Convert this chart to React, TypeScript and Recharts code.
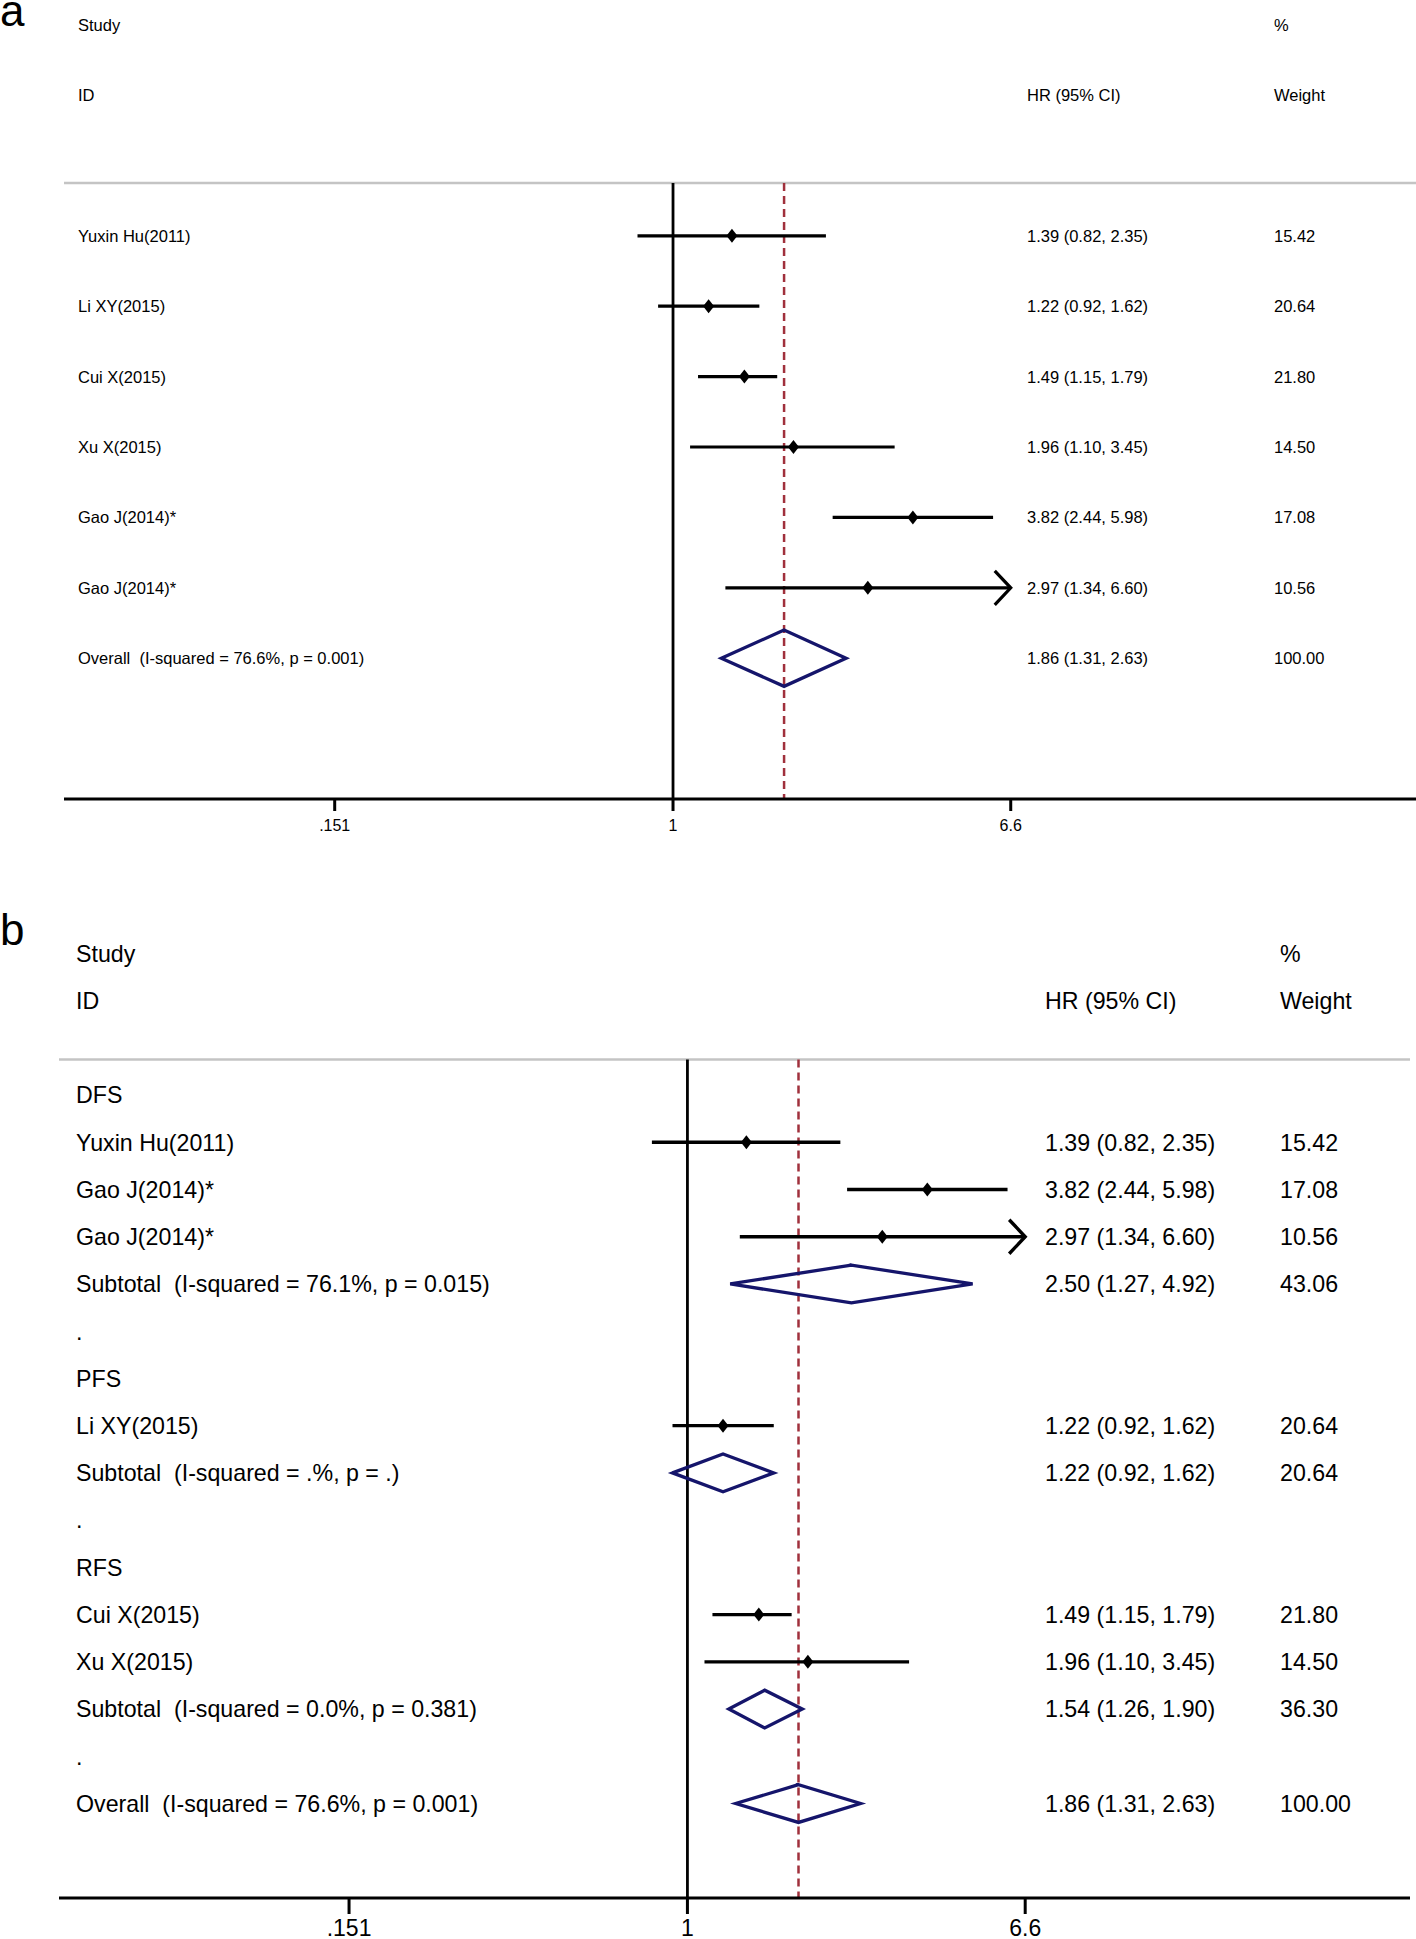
import React from 'react'
import { ComposedChart, XAxis, YAxis, Scatter, ReferenceLine } from 'recharts'

const FONT = '"Liberation Sans", Arial, Helvetica, sans-serif'

const xTicks = [0.151, 1, 6.6]
const xTickLabels = ['.151', '1', '6.6']
const headerTop = ['Study', '', '%']
const headerBottom = ['ID', 'HR (95% CI)', 'Weight']

// panel a: all studies
const aNames = ['Yuxin Hu(2011)', 'Li XY(2015)', 'Cui X(2015)', 'Xu X(2015)', 'Gao J(2014)*', 'Gao J(2014)*', 'Overall  (I-squared = 76.6%, p = 0.001)']
const aKinds = ['study', 'study', 'study', 'study', 'study', 'study', 'overall']
const aHR = [1.39, 1.22, 1.49, 1.96, 3.82, 2.97, 1.86]
const aLo = [0.82, 0.92, 1.15, 1.1, 2.44, 1.34, 1.31]
const aHi = [2.35, 1.62, 1.79, 3.45, 5.98, 6.6, 2.63]
const aWeight = [15.42, 20.64, 21.8, 14.5, 17.08, 10.56, 100.0]

// panel b: by outcome
const bNames = [
  'DFS', 'Yuxin Hu(2011)', 'Gao J(2014)*', 'Gao J(2014)*', 'Subtotal  (I-squared = 76.1%, p = 0.015)', '.',
  'PFS', 'Li XY(2015)', 'Subtotal  (I-squared = .%, p = .)', '.',
  'RFS', 'Cui X(2015)', 'Xu X(2015)', 'Subtotal  (I-squared = 0.0%, p = 0.381)', '.',
  'Overall  (I-squared = 76.6%, p = 0.001)',
]
const bKinds = ['label', 'study', 'study', 'study', 'pooled', 'label', 'label', 'study', 'pooled', 'label', 'label', 'study', 'study', 'pooled', 'label', 'overall']
const bHR = [null, 1.39, 3.82, 2.97, 2.5, null, null, 1.22, 1.22, null, null, 1.49, 1.96, 1.54, null, 1.86]
const bLo = [null, 0.82, 2.44, 1.34, 1.27, null, null, 0.92, 0.92, null, null, 1.15, 1.1, 1.26, null, 1.31]
const bHi = [null, 2.35, 5.98, 6.6, 4.92, null, null, 1.62, 1.62, null, null, 1.79, 3.45, 1.9, null, 2.63]
const bWeight = [null, 15.42, 17.08, 10.56, 43.06, null, null, 20.64, 20.64, null, null, 21.8, 14.5, 36.3, null, 100.0]

type Row = { y: number; kind: string; name: string; hr: number | null; lo: number | null; hi: number | null; w: number | null }

function buildRows(names: string[], kinds: string[], hr: any[], lo: any[], hi: any[], w: any[]): Row[] {
  return names.map((name, i) => ({ y: i + 3, kind: kinds[i], name, hr: hr[i], lo: lo[i], hi: hi[i], w: w[i] }))
}

const f2 = (v: number) => v.toFixed(2)

type PanelProps = {
  rows: Row[]
  width: number
  height: number
  left: number
  right: number
  axisHeight: number
  yDomain: [number, number]
  xDomain: [number, number]
  fontSize: number
  tickFont: number
  cols: number[]
  tickSize: number
  tickMargin: number
  lw: number
}

function Forest(p: PanelProps) {
  const { rows, lw } = p
  const axisRow = p.yDomain[1]
  const lineTop = 2.25
  const overall = rows.find((r) => r.kind === 'overall')!
  const xMax = xTicks[xTicks.length - 1]

  // text table rows, placed on the row scale (x=1 is only an anchor, columns are fixed)
  const textRows = [
    { x: 1, y: 0, cells: headerTop },
    { x: 1, y: 1, cells: headerBottom },
    ...rows.map((r) => ({
      x: 1,
      y: r.y,
      cells: [r.name, r.hr != null ? `${f2(r.hr)} (${f2(r.lo!)}, ${f2(r.hi!)})` : '', r.w != null ? f2(r.w) : ''],
    })),
  ]

  const textShape = (t: any) => {
    const cells: string[] = t.payload?.cells ?? []
    return (
      <g>
        {cells.map((s, k) =>
          s ? (
            <text key={k} x={p.cols[k]} y={t.cy} dy="0.36em" fontSize={p.fontSize} fontFamily={FONT} fill="#000" style={{ whiteSpace: 'pre' }}>
              {s}
            </text>
          ) : null,
        )}
      </g>
    )
  }

  const arrowShape = (s: any) => (
    <g>
      <line x1={s.x1} y1={s.y1} x2={s.x2} y2={s.y2} stroke="#000" strokeWidth={lw} />
      <polyline points={`${s.x2 - 16},${s.y2 - 17} ${s.x2},${s.y2} ${s.x2 - 16},${s.y2 + 17}`} fill="none" stroke="#000" strokeWidth={lw} />
    </g>
  )

  const marker = (s: any) => (
    <polygon points={`${s.cx - 5.5},${s.cy} ${s.cx},${s.cy - 7} ${s.cx + 5.5},${s.cy} ${s.cx},${s.cy + 7}`} fill="#000" />
  )

  const studies = rows.filter((r) => r.kind === 'study')
  const pooled = rows.filter((r) => r.kind === 'pooled' || r.kind === 'overall')

  return (
    <ComposedChart width={p.width} height={p.height} margin={{ top: 0, right: p.right, bottom: 0, left: p.left }}>
      <XAxis
        dataKey="x"
        type="number"
        scale="log"
        domain={p.xDomain}
        allowDataOverflow
        ticks={xTicks}
        interval={0}
        tickFormatter={(v: number) => xTickLabels[xTicks.indexOf(v)] ?? String(v)}
        height={p.axisHeight}
        axisLine={{ stroke: '#000', strokeWidth: 3 }}
        tickLine={{ stroke: '#000', strokeWidth: 3 }}
        tickSize={p.tickSize}
        tickMargin={p.tickMargin}
        tick={{ fontSize: p.tickFont, fill: '#000', fontFamily: FONT }}
      />
      <YAxis dataKey="y" type="number" domain={p.yDomain} allowDataOverflow reversed width={0} hide />
      <ReferenceLine y={lineTop} stroke="#c4c4c4" strokeWidth={2.5} ifOverflow="visible" />
      <ReferenceLine
        segment={[{ x: overall.hr!, y: lineTop }, { x: overall.hr!, y: axisRow }]}
        stroke="#a0303c"
        strokeWidth={2.5}
        strokeDasharray="8 5"
        ifOverflow="visible"
      />
      <ReferenceLine segment={[{ x: 1, y: lineTop }, { x: 1, y: axisRow }]} stroke="#000" strokeWidth={2.8} ifOverflow="visible" />
      {studies.map((r) => (
        <ReferenceLine
          key={`ci${r.y}`}
          segment={[{ x: r.lo!, y: r.y }, { x: Math.min(r.hi!, xMax), y: r.y }]}
          stroke="#000"
          strokeWidth={lw}
          ifOverflow="visible"
          shape={r.hi! >= xMax ? arrowShape : undefined}
        />
      ))}
      {pooled.map((r) => (
        <Scatter
          key={`d${r.y}`}
          data={[
            { x: r.lo, y: r.y },
            { x: r.hr, y: r.y - 0.4 },
            { x: r.hi, y: r.y },
            { x: r.hr, y: r.y + 0.4 },
            { x: r.lo, y: r.y },
            { x: r.hr, y: r.y - 0.4 },
          ]}
          line={{ stroke: '#15156b', strokeWidth: 3.3, strokeLinejoin: 'miter' }}
          lineType="joint"
          shape={() => <g />}
          isAnimationActive={false}
        />
      ))}
      <Scatter data={studies.map((r) => ({ x: r.hr, y: r.y }))} shape={marker} isAnimationActive={false} />
      <Scatter data={textRows} shape={textShape} isAnimationActive={false} />
    </ComposedChart>
  )
}

export default function App() {
  const aRows = buildRows(aNames, aKinds, aHR, aLo, aHi, aWeight)
  const bRows = buildRows(bNames, bKinds, bHR, bLo, bHi, bWeight)
  return (
    <div style={{ position: 'relative', width: 1416, height: 1939, background: '#fff', overflow: 'hidden', fontFamily: FONT }}>
      <style>{'body{margin:0}'}</style>
      <div style={{ position: 'absolute', left: 0, top: -11, fontSize: 44, lineHeight: '44px' }}>a</div>
      <div style={{ position: 'absolute', left: 0, top: 908, fontSize: 44, lineHeight: '44px' }}>b</div>
      <div style={{ position: 'absolute', left: 0, top: 0 }}>
        <Forest
          rows={aRows}
          width={1416}
          height={925}
          left={64}
          right={0}
          axisHeight={126}
          yDomain={[-0.35, 11]}
          xDomain={[0.03327, 63.54]}
          fontSize={16.5}
          tickFont={16}
          cols={[78, 1027, 1274]}
          tickSize={12}
          tickMargin={9}
          lw={3.2}
        />
      </div>
      <div style={{ position: 'absolute', left: 0, top: 925 }}>
        <Forest
          rows={bRows}
          width={1416}
          height={1014}
          left={59}
          right={6}
          axisHeight={41}
          yDomain={[-0.6, 20]}
          xDomain={[0.02987, 56.65]}
          fontSize={23.2}
          tickFont={23}
          cols={[76, 1045, 1280]}
          tickSize={16}
          tickMargin={6}
          lw={3.4}
        />
      </div>
    </div>
  )
}
